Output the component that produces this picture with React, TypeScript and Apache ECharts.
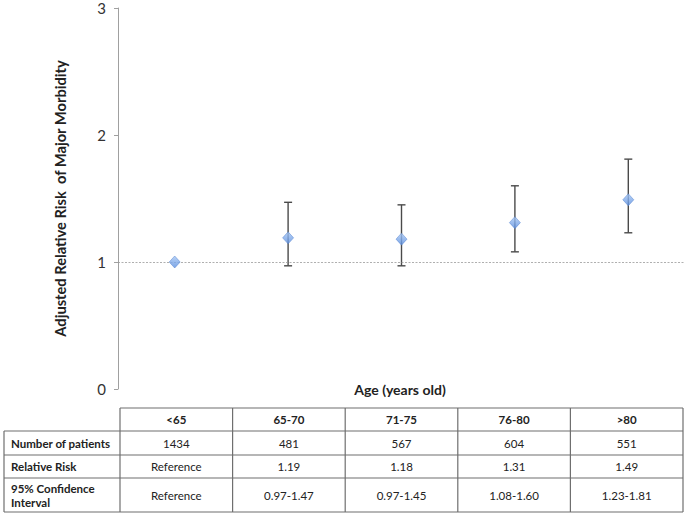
import React, { useEffect, useRef } from "react";
import * as echarts from "echarts";

const categories = ["<65", "65-70", "71-75", "76-80", ">80"];
const relativeRisk = [1.0, 1.19, 1.18, 1.31, 1.49];
const ciLow: (number | null)[] = [null, 0.97, 0.97, 1.08, 1.23];
const ciHigh: (number | null)[] = [null, 1.47, 1.45, 1.6, 1.81];
const patients = [1434, 481, 567, 604, 551];
const rowLabels = ["Number of patients", "Relative Risk", "95% Confidence\nInterval"];
const yTicks = [0, 1, 2, 3];

const FONT = "Lato, 'Open Sans', sans-serif";

export default function App() {
  const ref = useRef<HTMLDivElement>(null);
  useEffect(() => {
    if (!ref.current) return;
    const chart = echarts.init(ref.current, null, { renderer: "svg" });

    // table geometry
    const tLeft = 4;
    const c0 = 120;
    const colW = 112.6;
    const rowY = [408, 431, 455, 478, 512];
    const border = "#6f6f6f";
    const g: any[] = [];
    const tRight = c0 + colW * categories.length;
    rowY.forEach((y, i) => {
      g.push({
        type: "line",
        shape: { x1: i === 0 ? c0 : tLeft, y1: y, x2: tRight, y2: y },
        style: { stroke: border, lineWidth: 1.2 },
        silent: true,
      });
    });
    g.push({ type: "line", shape: { x1: tLeft, y1: rowY[1], x2: tLeft, y2: rowY[4] }, style: { stroke: border, lineWidth: 1.2 } });
    for (let i = 0; i <= categories.length; i++) {
      const x = c0 + colW * i;
      g.push({ type: "line", shape: { x1: x, y1: rowY[0], x2: x, y2: rowY[4] }, style: { stroke: border, lineWidth: 1.2 } });
    }
    const rowText = [
      patients.map((p) => String(p)),
      relativeRisk.map((v, i) => (ciLow[i] == null ? "Reference" : v.toFixed(2))),
      categories.map((_, i) =>
        ciLow[i] == null ? "Reference" : `${(ciLow[i] as number).toFixed(2)}-${(ciHigh[i] as number).toFixed(2)}`
      ),
    ];
    const fs = 11.5;
    categories.forEach((c, i) => {
      g.push({
        type: "text",
        x: c0 + colW * (i + 0.5),
        y: (rowY[0] + rowY[1]) / 2,
        style: { text: c, fontFamily: FONT, fontSize: fs, fontWeight: "bold", fill: "#222", align: "center", verticalAlign: "middle" },
      });
    });
    rowLabels.forEach((lab, r) => {
      g.push({
        type: "text",
        x: tLeft + 7,
        y: (rowY[r + 1] + rowY[r + 2]) / 2,
        style: { text: lab, fontFamily: FONT, fontSize: fs, fontWeight: "bold", fill: "#222", align: "left", verticalAlign: "middle", lineHeight: 14 },
      });
      rowText[r].forEach((t, i) => {
        g.push({
          type: "text",
          x: c0 + colW * (i + 0.5),
          y: (rowY[r + 1] + rowY[r + 2]) / 2,
          style: { text: t, fontFamily: FONT, fontSize: fs, fill: "#222", align: "center", verticalAlign: "middle" },
        });
      });
    });
    g.push({
      type: "text",
      x: 400,
      y: 389,
      style: { text: "Age (years old)", fontFamily: FONT, fontSize: 14, fontWeight: "bold", fill: "#222", align: "center", verticalAlign: "middle" },
    });

    const errData = categories
      .map((_, i) => [i, ciLow[i], ciHigh[i]])
      .filter((d) => d[1] != null);

    chart.setOption({
      animation: false,
      textStyle: { fontFamily: FONT },
      grid: { left: 118, right: 0, top: 8, bottom: 127, containLabel: false },
      xAxis: {
        type: "category",
        data: categories,
        boundaryGap: true,
        axisLine: { show: false },
        axisTick: { show: false },
        axisLabel: { show: false },
        splitLine: { show: false },
      },
      yAxis: {
        type: "value",
        min: yTicks[0],
        max: yTicks[yTicks.length - 1],
        interval: 1,
        name: "Adjusted Relative Risk  of Major Morbidity",
        nameLocation: "middle",
        nameGap: 51,
        nameTextStyle: { fontFamily: FONT, fontSize: 14.7, fontWeight: "bold", color: "#222" },
        axisLine: { show: true, lineStyle: { color: "#a0a0a0", width: 1 } },
        axisTick: { show: true, length: 4, lineStyle: { color: "#a0a0a0" } },
        axisLabel: { margin: 12, fontSize: 15, color: "#333", fontFamily: FONT },
        splitLine: { show: false },
      },
      series: [
        {
          type: "custom",
          data: errData,
          z: 2,
          renderItem: (params: any, api: any) => {
            const x = api.value(0);
            const lo = api.coord([x, api.value(1)]);
            const hi = api.coord([x, api.value(2)]);
            const hw = 4;
            const style = { stroke: "#4a4a4a", lineWidth: 1.4 };
            return {
              type: "group",
              children: [
                { type: "line", shape: { x1: lo[0], y1: lo[1], x2: hi[0], y2: hi[1] }, style },
                { type: "line", shape: { x1: lo[0] - hw, y1: lo[1], x2: lo[0] + hw, y2: lo[1] }, style },
                { type: "line", shape: { x1: hi[0] - hw, y1: hi[1], x2: hi[0] + hw, y2: hi[1] }, style },
              ],
            };
          },
        },
        {
          type: "scatter",
          data: relativeRisk,
          symbol: "diamond",
          symbolSize: [11, 12],
          z: 5,
          itemStyle: {
            color: new echarts.graphic.LinearGradient(0, 0, 0, 1, [
              { offset: 0, color: "#a8c8f4" },
              { offset: 1, color: "#5a8ee0" },
            ]),
            borderColor: "#4d7fcf",
            borderWidth: 0.6,
          },
          markLine: {
            silent: true,
            symbol: "none",
            label: { show: false },
            lineStyle: { color: "#9a9a9a", type: [2, 1.5], width: 0.8 },
            data: [{ yAxis: 1 }],
          },
        },
      ],
      graphic: g,
    });
    return () => chart.dispose();
  }, []);
  return <div ref={ref} style={{ position: "absolute", left: 0, top: 0, width: 685, height: 516 }} />;
}
